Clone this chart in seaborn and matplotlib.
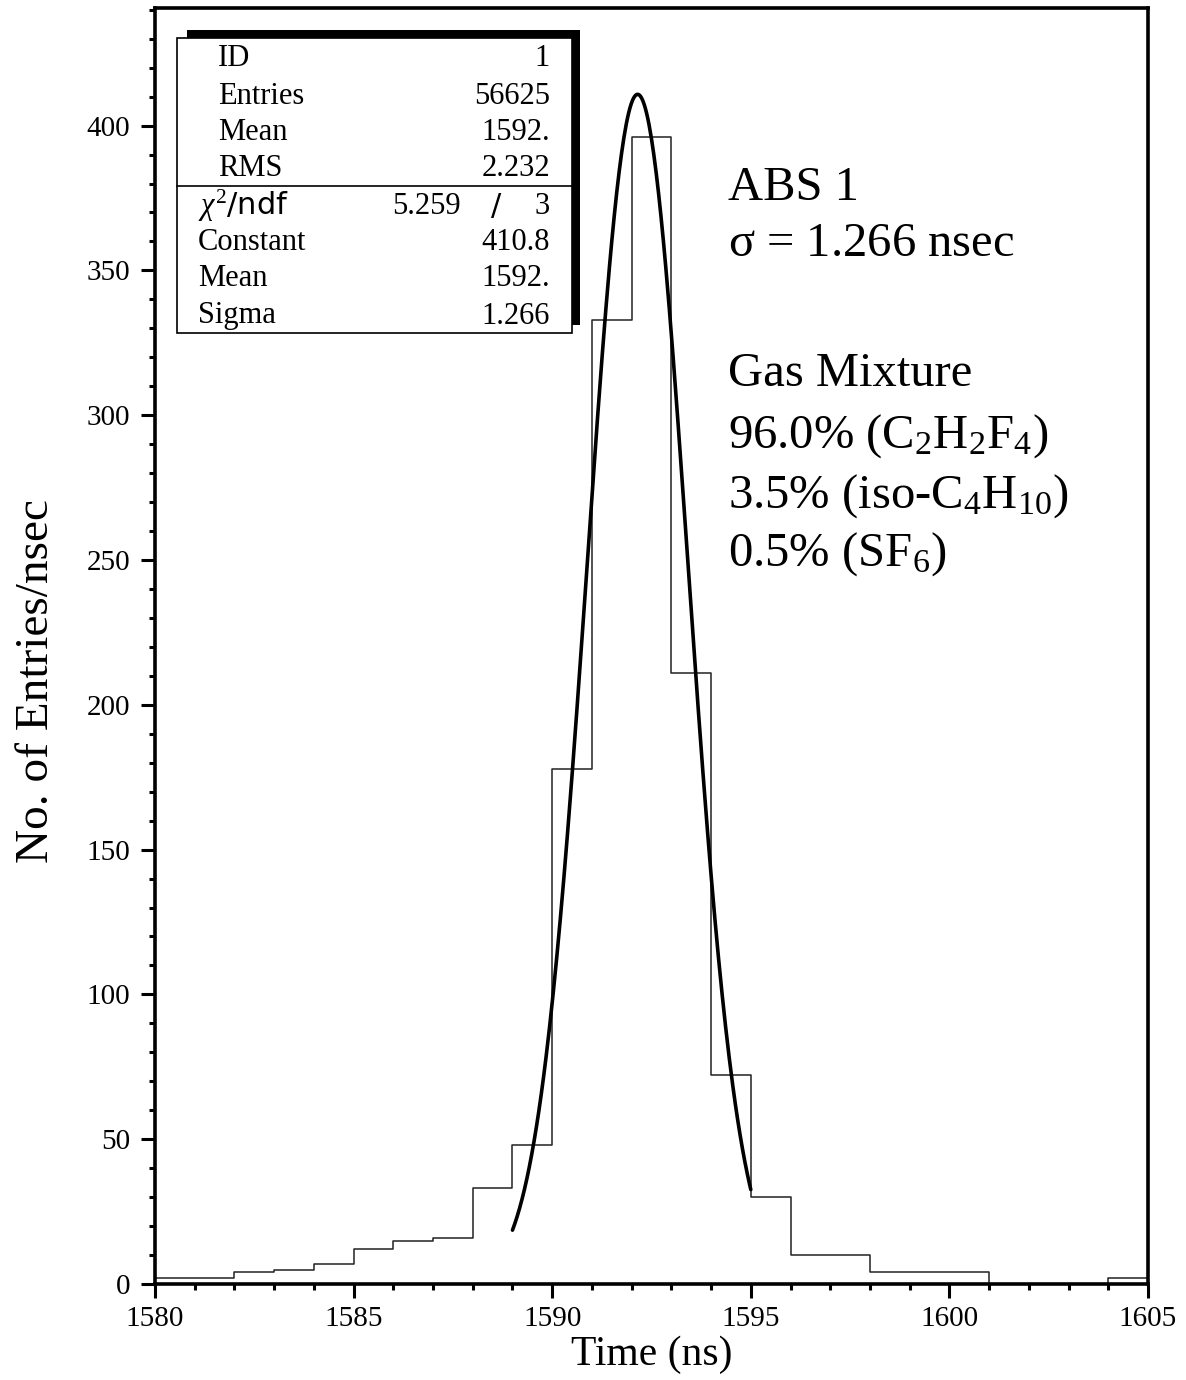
import numpy as np
import pandas as pd
import matplotlib
matplotlib.use("Agg")
import matplotlib.pyplot as plt
from matplotlib.patches import Rectangle
from matplotlib.ticker import MultipleLocator
import seaborn as sns

# histogram contents, 1 ns bins from 1580 to 1605
bin_low = list(range(1580, 1605))
counts = [2, 2, 4, 5, 7, 12, 15, 16, 33, 48, 178, 333, 396, 211, 72,
          30, 10, 10, 4, 4, 4, 0, 0, 0, 2]

# gaussian fit parameters (from the stats box)
fit_const = 410.8
fit_mean = 1592.15
fit_sigma = 1.266
fit_range = (1589.0, 1595.0)

stat_labels = ["ID", "Entries", "Mean", "RMS"]
stat_values = ["1", "56625", "1592.", "2.232"]
fit_labels = ["Constant", "Mean", "Sigma"]
fit_values = ["410.8", "1592.", "1.266"]
chi2_value = "5.259"
ndf_value = "3"

right_lines = ["ABS 1", r"$\mathrm{\sigma}$ = 1.266 nsec", "",
               "Gas Mixture",
               r"96.0% (C$_2$H$_2$F$_4$)",
               r"3.5% (iso-C$_4$H$_{10}$)",
               r"0.5% (SF$_6$)"]

sns.set_theme(style="ticks")
plt.rcParams["font.family"] = ["Liberation Serif", "DejaVu Serif"]
plt.rcParams["mathtext.fontset"] = "custom"
plt.rcParams["mathtext.rm"] = "Liberation Serif"
plt.rcParams["mathtext.it"] = "Liberation Serif:italic"
plt.rcParams["mathtext.sf"] = "DejaVu Sans"
plt.rcParams["text.color"] = "black"
plt.rcParams["axes.labelcolor"] = "black"

W, H = 1186, 1380
fig = plt.figure(figsize=(W / 100, H / 100), dpi=100)
x0, x1, y0, y1 = 155, 1148, 1284, 8
ax = fig.add_axes([x0 / W, 1 - y0 / H, (x1 - x0) / W, (y0 - y1) / H])

df = pd.DataFrame({"t": np.array(bin_low) + 0.5, "n": counts})
sns.histplot(data=df, x="t", weights="n", binwidth=1, binrange=(1580, 1605),
             element="step", fill=False, color="#222222", linewidth=1.1, ax=ax)

xf = np.linspace(fit_range[0], fit_range[1], 200)
yf = fit_const * np.exp(-0.5 * ((xf - fit_mean) / fit_sigma) ** 2)
sns.lineplot(x=xf, y=yf, color="black", linewidth=2.6, ax=ax)

ax.set_xlim(1580, 1605)
ax.set_ylim(0, 440.6)
ax.xaxis.set_major_locator(MultipleLocator(5))
ax.xaxis.set_minor_locator(MultipleLocator(1))
ax.yaxis.set_major_locator(MultipleLocator(50))
ax.yaxis.set_minor_locator(MultipleLocator(10))
ax.tick_params(which="major", direction="out", length=10, width=2.2, labelsize=21,
               colors="black")
ax.tick_params(axis="y", which="major", pad=8)
ax.tick_params(axis="x", which="major", pad=6)
ax.tick_params(which="minor", direction="out", length=4.5, width=2.2, colors="black")
ax.tick_params(top=False, right=False)
for s in ax.spines.values():
    s.set_linewidth(2.6)
    s.set_color("black")
ax.set_xlabel("Time (ns)", fontsize=30, labelpad=2)
ax.set_ylabel("No. of Entries/nsec", fontsize=34)
ax.yaxis.set_label_coords(-0.098, 0.4726)


def px(x, y):
    return ((x - x0) / (x1 - x0), (y0 - y) / (y0 - y1))


def rect(xa, ya, xb, yb, **kw):
    (u0, v0), (u1, v1) = px(xa, yb), px(xb, ya)
    ax.add_patch(Rectangle((u0, v0), u1 - u0, v1 - v0, transform=ax.transAxes,
                           clip_on=False, **kw))


# stats box with shadow
rect(187, 30, 580, 325, facecolor="black", edgecolor="none", zorder=5)
rect(177, 38, 572, 333, facecolor="white", edgecolor="black", linewidth=1.2, zorder=6)
ax.plot([px(177, 186)[0], px(572, 186)[0]], [px(177, 186)[1]] * 2, color="black",
        linewidth=1.2, transform=ax.transAxes, zorder=7, clip_on=False)

fs_box = 22
rows_top = [59, 96, 132, 169]
for lab, val, yy in zip(stat_labels, stat_values, rows_top):
    ax.text(*px(218, yy), lab, fontsize=fs_box, va="center", ha="left",
            transform=ax.transAxes, zorder=8)
    ax.text(*px(550, yy), val, fontsize=fs_box, va="center", ha="right",
            transform=ax.transAxes, zorder=8)

ax.text(*px(198, 206), r"$\chi^2\mathsf{/ndf}$", fontsize=fs_box, va="center", ha="left",
        transform=ax.transAxes, zorder=8)
ax.text(*px(461, 206), chi2_value, fontsize=fs_box, va="center", ha="right",
        transform=ax.transAxes, zorder=8)
ax.text(*px(496, 206), "/", fontsize=fs_box, va="center", ha="center",
        family="DejaVu Sans", transform=ax.transAxes, zorder=8)
ax.text(*px(550, 206), ndf_value, fontsize=fs_box, va="center", ha="right",
        transform=ax.transAxes, zorder=8)

rows_bot = [242, 279, 316]
for lab, val, yy in zip(fit_labels, fit_values, rows_bot):
    ax.text(*px(198, yy), lab, fontsize=fs_box, va="center", ha="left",
            transform=ax.transAxes, zorder=8)
    ax.text(*px(550, yy), val, fontsize=fs_box, va="center", ha="right",
            transform=ax.transAxes, zorder=8)

# annotation on the right
line_y = [200, 256, 0, 386, 448, 508, 566]
for txt, yy in zip(right_lines, line_y):
    if not txt:
        continue
    ax.text(*px(728, yy), txt, fontsize=35, va="baseline", ha="left",
            transform=ax.transAxes)

fig.savefig("out.png", dpi=100)
